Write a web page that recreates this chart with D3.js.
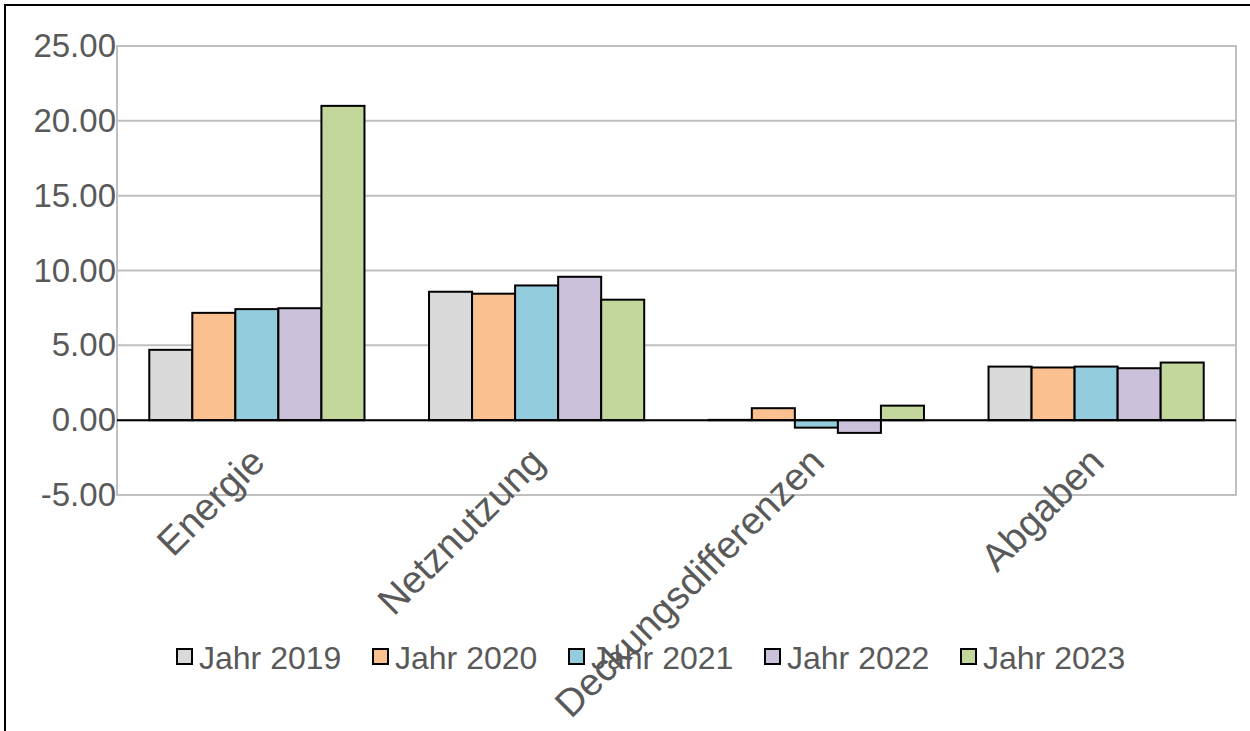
<!DOCTYPE html>
<html>
<head>
<meta charset="utf-8">
<script src="https://cdn.jsdelivr.net/npm/d3@7"></script>
<style>
  html, body { margin: 0; padding: 0; background: #fff; }
  svg { display: block; font-family: Arial, "Liberation Sans", sans-serif; }
</style>
</head>
<body>
<svg id="chart" width="1250" height="731"></svg>
<script>
// Kostenkomponenten je Jahr
const categories = ["Energie", "Netznutzung", "Deckungsdifferenzen", "Abgaben"];
const years = ["Jahr 2019", "Jahr 2020", "Jahr 2021", "Jahr 2022", "Jahr 2023"];
const values2019 = [4.70, 8.58, 0.02, 3.58];
const values2020 = [7.17, 8.45, 0.80, 3.52];
const values2021 = [7.42, 9.00, -0.50, 3.58];
const values2022 = [7.48, 9.58, -0.85, 3.47];
const values2023 = [21.00, 8.05, 0.97, 3.85];
const yTicks = [-5, 0, 5, 10, 15, 20, 25];
const colors = ["#d9d9d9", "#fac090", "#93cddd", "#ccc1da", "#c3d69b"];

const series = [values2019, values2020, values2021, values2022, values2023];

const svg = d3.select("#chart");
const plot = { left: 117, right: 1236, top: 46, bottom: 495 };
const textColor = "#595959";

// outer chart frame
svg.append("path")
  .attr("d", "M5,731 V5 H1250")
  .attr("fill", "none").attr("stroke", "#000").attr("stroke-width", 2);

const x = d3.scaleBand().domain(categories).range([plot.left, plot.right]).padding(0);
const xi = d3.scaleBand().domain(years).range([0, x.bandwidth()])
  .paddingInner(0).paddingOuter(0.75);
const y = d3.scaleLinear().domain([-5, 25]).range([plot.bottom, plot.top]);

// gridlines
svg.append("g").selectAll("line").data(yTicks).join("line")
  .attr("x1", plot.left).attr("x2", plot.right)
  .attr("y1", d => y(d)).attr("y2", d => y(d))
  .attr("stroke", "#bfbfbf").attr("stroke-width", 2);

// plot area border
svg.append("rect")
  .attr("x", plot.left).attr("y", plot.top)
  .attr("width", plot.right - plot.left).attr("height", plot.bottom - plot.top)
  .attr("fill", "none").attr("stroke", "#bfbfbf").attr("stroke-width", 2);

// y axis labels (hyphen-minus for negatives)
const fmt = d3.format(".2f");
const yAxis = d3.axisLeft(y).tickValues(yTicks)
  .tickFormat(d => fmt(d).replace("\u2212", "-"))
  .tickSize(0).tickPadding(1);
const gy = svg.append("g").attr("transform", `translate(${plot.left},0)`).call(yAxis);
gy.select(".domain").remove();
gy.selectAll("text").attr("fill", textColor).style("font-size", "33px")
  .style("font-family", "Arial, 'Liberation Sans', sans-serif");

// bars
const groups = svg.append("g").selectAll("g").data(series).join("g")
  .attr("fill", (d, i) => colors[i]);
groups.selectAll("rect").data((vals, si) => vals.map((v, ci) => ({ v, ci, si }))).join("rect")
  .attr("x", d => x(categories[d.ci]) + xi(years[d.si]))
  .attr("width", xi.bandwidth())
  .attr("y", d => y(Math.max(0, d.v)))
  .attr("height", d => Math.abs(y(d.v) - y(0)))
  .attr("stroke", "#000").attr("stroke-width", 2);

// zero line
svg.append("line")
  .attr("x1", plot.left).attr("x2", plot.right)
  .attr("y1", y(0)).attr("y2", y(0))
  .attr("stroke", "#000").attr("stroke-width", 2);

// category labels, rotated
svg.append("g").selectAll("text").data(categories).join("text")
  .attr("transform", d => `translate(${x(d) + x.bandwidth() / 2 + 10},${y(0) + 44}) rotate(-45)`)
  .attr("text-anchor", "end")
  .attr("fill", textColor)
  .style("font-size", "38.5px")
  .text(d => d);

// legend
const legendX = [177, 373, 569, 765, 961];
const legend = svg.append("g").selectAll("g").data(years).join("g")
  .attr("transform", (d, i) => `translate(${legendX[i]},657)`);
legend.append("rect")
  .attr("x", 0).attr("y", -8).attr("width", 15).attr("height", 15)
  .attr("fill", (d, i) => colors[i]).attr("stroke", "#000").attr("stroke-width", 2);
legend.append("text")
  .attr("x", 22).attr("y", 12)
  .attr("fill", textColor).style("font-size", "32px")
  .text(d => d);
</script>
</body>
</html>
